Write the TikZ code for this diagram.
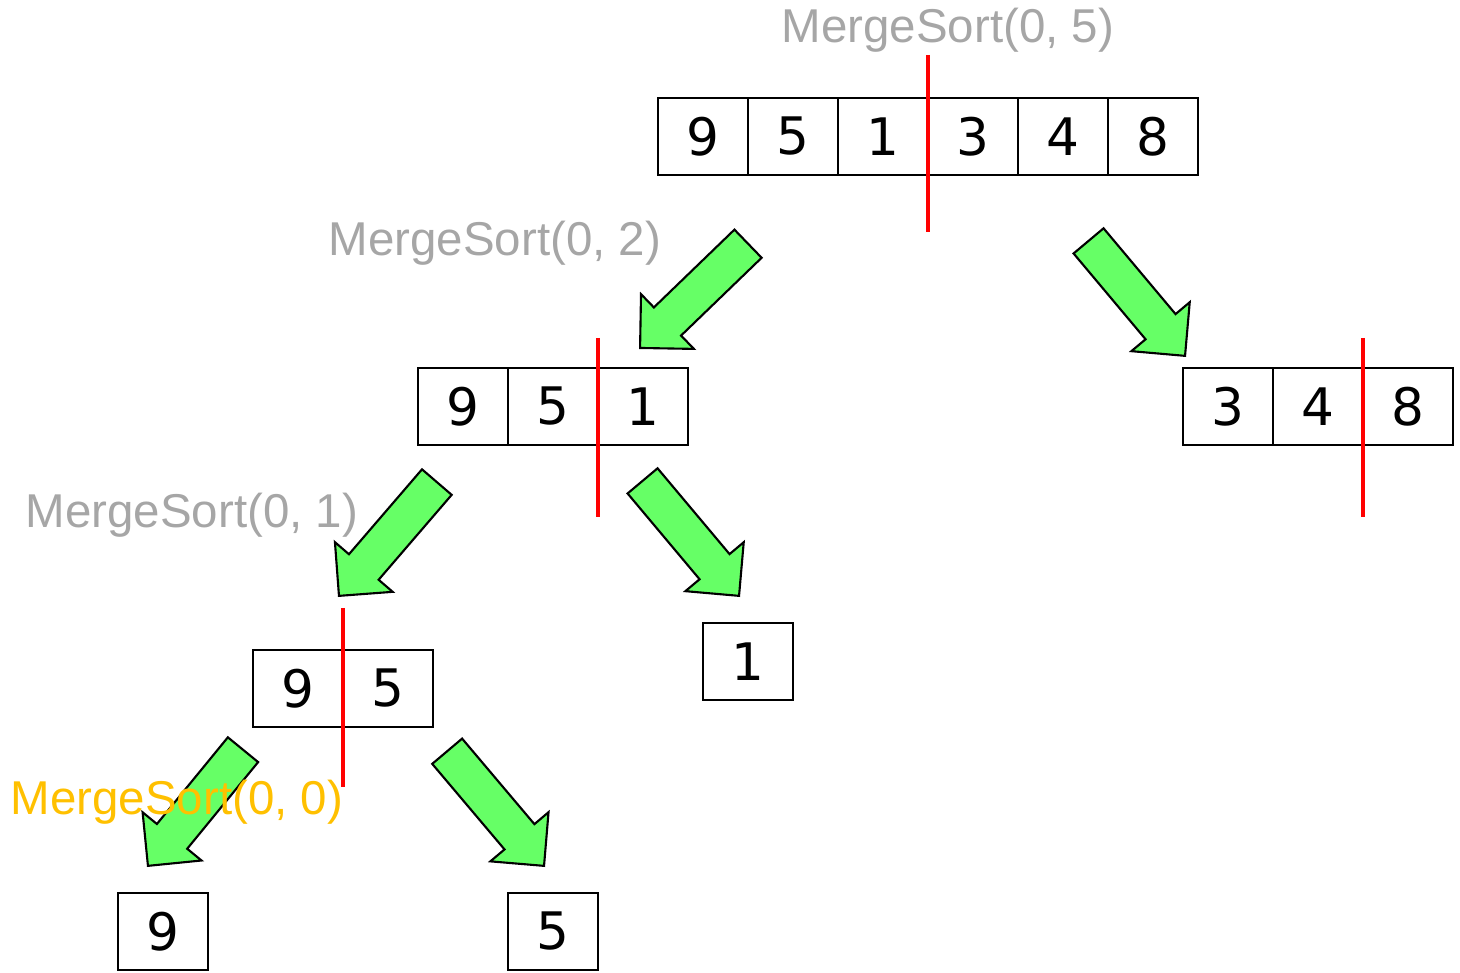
\documentclass[tikz,border=0pt]{standalone}
\usepackage{fontspec}
\setmainfont{Liberation Sans}
\newfontfamily\numfont{DejaVu Sans}
\usetikzlibrary{positioning,shapes.arrows}

\definecolor{callgray}{HTML}{A6A6A6}
\definecolor{callorange}{HTML}{FFC000}
\definecolor{arrowgreen}{HTML}{66FF66}

\tikzset{
  cell/.style={draw, line width=0.6pt, minimum width=0.9cm, minimum height=0.77cm,
    inner sep=0pt, outer sep=0pt, font=\numfont\fontsize{14.7}{16}\selectfont},
  call/.style={text=callgray, inner sep=0pt, font=\fontsize{13.5}{15}\selectfont},
  split/.style={draw=red, line width=1.3pt},
  down/.style={single arrow, draw, line width=0.6pt, fill=arrowgreen, anchor=tip,
    minimum height=1.5cm, inner xsep=0pt, inner ysep=0.185cm,
    single arrow head extend=0.185cm, single arrow tip angle=90}
}

\begin{document}
\begin{tikzpicture}[x=0.01cm, y=-0.01cm]
  \useasboundingbox (0,0) rectangle (1460,973);

  % arrays
  \foreach \v [count=\i] in {9,5,1,3,4,8} \node[cell] (a\i) at (613+90*\i,136.5) {\v};
  \foreach \v [count=\i] in {9,5,1} \node[cell] (b\i) at (373+90*\i,406.5) {\v};
  \foreach \v [count=\i] in {3,4,8} \node[cell] (c\i) at (1138+90*\i,406.5) {\v};
  \foreach \v [count=\i] in {9,5} \node[cell] (d\i) at (208+90*\i,688.5) {\v};
  \node[cell] (e1) at (748,661.5) {1};
  \node[cell] (f1) at (163,931.5) {9};
  \node[cell] (g1) at (553,931.5) {5};

  % split points
  \draw[split] ([yshift=0.43cm]a3.north east) -- ([yshift=-0.57cm]a3.south east);
  \draw[split] ([yshift=0.30cm]b2.north east) -- ([yshift=-0.72cm]b2.south east);
  \draw[split] ([yshift=0.30cm]c2.north east) -- ([yshift=-0.72cm]c2.south east);
  \draw[split] ([yshift=0.42cm]d1.north east) -- ([yshift=-0.60cm]d1.south east);

  % recursive calls (placed by their tips)
  \node[down, rotate=224] (s1) at (639,349) {};
  \node[down, rotate=-50] (s2) at (1186,357) {};
  \node[down, rotate=229.3] (s3) at (338,597) {};
  \node[down, rotate=-50] (s4) at (740,597) {};
  \node[down, rotate=230.7] (s5) at (147,867) {};
  \node[down, rotate=-49.8] (s6) at (545,867) {};

  \node[call] (m05) at (948,30) {MergeSort(0, 5)};
  \node[call] (m02) at (495,243) {MergeSort(0, 2)};
  \node[call] (m01) at (192,515) {MergeSort(0, 1)};
  \node[call, text=callorange] (m00) at (177,802) {MergeSort(0, 0)};
\end{tikzpicture}
\end{document}
